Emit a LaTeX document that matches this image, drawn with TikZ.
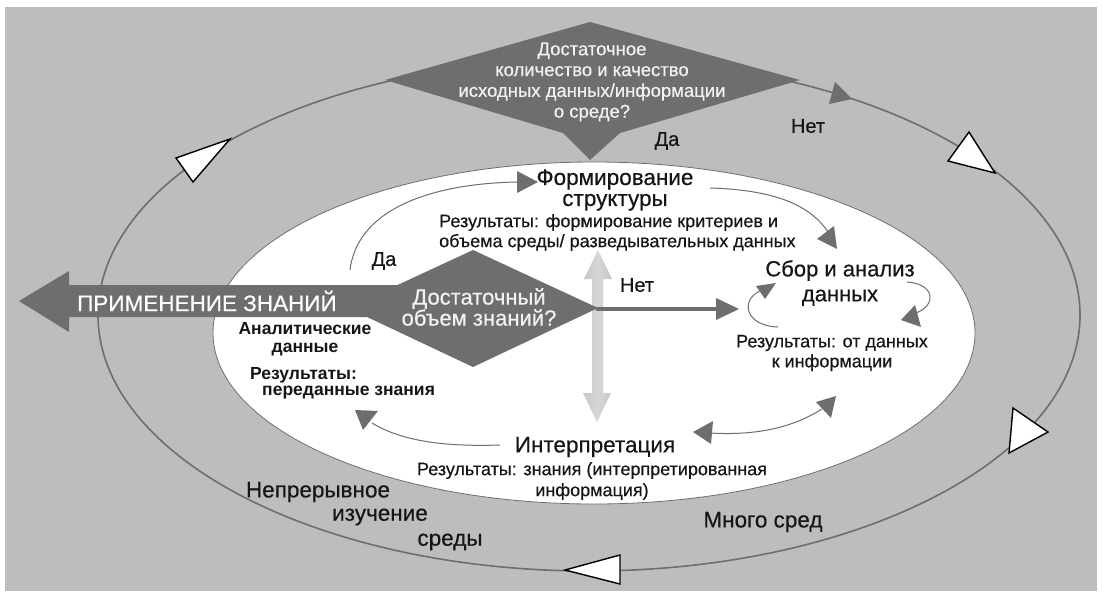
\documentclass[tikz,border=0pt]{standalone}
\usepackage{fontspec}
\setmainfont{Liberation Sans}
\newfontfamily\medfont{Liberation Sans}[FakeBold=0.45]
\definecolor{bggray}{HTML}{BDBDBD}
\definecolor{dark}{HTML}{6E6E6E}
\definecolor{lightarr}{HTML}{C6C6C6}
\definecolor{dtext}{HTML}{F2F2F2}
\definecolor{ink}{HTML}{151515}
\tikzset{
  big/.style={font=\medfont\fontsize{22.5}{21}\selectfont, text=ink, inner sep=0pt, align=center},
  yesno/.style={font=\medfont\fontsize{20}{21}\selectfont, text=ink, inner sep=0pt},
  small/.style={font=\medfont\fontsize{18}{20}\selectfont, text=ink, inner sep=0pt},
  bsmall/.style={font=\fontsize{17.5}{18.5}\selectfont\bfseries, text=ink, inner sep=0pt},
  dtxt/.style={text=dtext, inner sep=0pt, align=center},
  flow/.style={draw=dark, line width=1pt},
  headfill/.style={fill=dark, draw=none},
  wtri/.style={fill=white, draw=black, line width=1.4pt, line join=miter},
}
\begin{document}
\begin{tikzpicture}[x=1pt,y=-1pt]
\useasboundingbox (0,0) rectangle (1102,599);
\fill[white] (0,0) rectangle (1102,599);
\fill[bggray] (5,7) rectangle (1097,591);
% outer cycle
\draw[dark, line width=1.6pt] (589,315) ellipse [x radius=491pt, y radius=256pt];
% inner white field
\filldraw[fill=white, draw=dark, line width=0.8pt] (594,333) ellipse [x radius=381pt, y radius=171pt];

% vertical double arrow
\shade[left color=lightarr, right color=lightarr, middle color=lightarr!70!white]
  (598,250) -- (612,279) -- (603,279) -- (603,393) -- (611,393) -- (597,422)
  -- (583,393) -- (592,393) -- (592,279) -- (584,279) -- cycle;

% big arrow band
\fill[dark] (19,301) -- (69,271) -- (69,285) -- (430,285) -- (430,317) -- (69,317) -- (69,332) -- cycle;
% lower diamond
\fill[dark] (473,250) -- (598,308) -- (473,367) -- (348,308) -- cycle;
% horizontal arrow
\coordinate (hs) at (596,309);
\coordinate (he) at (720,309);
\draw[dark, line width=4pt] (hs) -- (he);
\fill[headfill] (716,298) -- (739,309) -- (716,320) -- cycle;
% top diamond
\fill[dark] (590,22) -- (800,80) -- (620,133) -- (590,160) -- (563,133) -- (385,80) -- cycle;

% markers on outer cycle
\fill[headfill] (852,99) -- (835,82) -- (829,104) -- cycle;
\filldraw[wtri] (176,158) -- (230,139) -- (193,182) -- cycle;
\filldraw[wtri] (969,132) -- (948,161) -- (995,173) -- cycle;
\filldraw[wtri] (1013,408) -- (1009,453) -- (1048,432) -- cycle;
\filldraw[wtri] (565,570) -- (620,555) -- (620,584) -- cycle;

% thin arrows
\coordinate (a1) at (350,270); \coordinate (a2) at (519,182);
\draw[flow] (a1) .. controls (358,205) and (440,183) .. (a2);
\fill[headfill] (538,182) -- (517,171) -- (517,193) -- cycle;

\coordinate (b1) at (710,188); \coordinate (b2) at (828,232);
\draw[flow] (b1) .. controls (775,190) and (810,205) .. (b2);
\fill[headfill] (817,239) -- (834,226) -- (837,249) -- cycle;

\coordinate (c1) at (778,327); \coordinate (c2) at (760,291);
\draw[flow] (c1) .. controls (745,326) and (740,300) .. (c2);
\fill[headfill] (776,283) -- (756,286) -- (765,299) -- cycle;

\coordinate (d1) at (907,282); \coordinate (d2) at (916,313);
\draw[flow] (d1) .. controls (935,284) and (937,305) .. (d2);
\fill[headfill] (901,320) -- (915,305) -- (921,327) -- cycle;

\coordinate (e1) at (500,445); \coordinate (e2) at (372,423);
\draw[flow] (e1) .. controls (440,447) and (400,440) .. (e2);
\fill[headfill] (355,410) -- (378,411) -- (363,430) -- cycle;

\coordinate (f1) at (710,433); \coordinate (f2) at (822,409);
\draw[flow] (f1) .. controls (760,436) and (795,426) .. (f2);
\fill[headfill] (693,432) -- (713,421) -- (711,444) -- cycle;
\fill[headfill] (836,396) -- (816,402) -- (831,418) -- cycle;

% texts
\node[dtxt, font=\medfont\fontsize{18.5}{20.8}\selectfont] (q1) at (592,82)
  {Достаточное\\количество и качество\\исходных данных/информации\\о среде?};
\node[yesno] (yes1) at (667,141) {Да};
\node[yesno] (no1) at (808,126) {Нет};
\node[big] (form) at (615,190) {Формирование\\структуры};
\node[small, anchor=west, align=left] (formres) at (439,232.5)
  {Результаты: формирование критериев и\\объема среды/ разведывательных данных};
\node[yesno] (yes2) at (384,261) {Да};
\node[yesno] (no2) at (637,285) {Нет};
\node[dtxt, font=\medfont\fontsize{22.5}{21}\selectfont, text=white, anchor=west] (apply) at (77,301) {ПРИМЕНЕНИЕ ЗНАНИЙ};
\node[dtxt, font=\medfont\fontsize{22}{21}\selectfont] (q2) at (479,307) {Достаточный\\объем знаний?};
\node[bsmall, align=center] (anal) at (305,339) {Аналитические\\данные};
\node[bsmall, anchor=west] (res1) at (250,375) {Результаты:};
\node[bsmall, anchor=west] (res2) at (262,393) {переданные знания};
\node[big, font=\medfont\fontsize{22}{25}\selectfont] (sbor) at (840,283) {Сбор и анализ\\данных};
\node[small, align=center] (sborres) at (832,353) {Результаты: от данных\\к информации};
\node[big] (interp) at (595,447) {Интерпретация};
\node[small, align=center, font=\medfont\fontsize{18}{21}\selectfont] (interpres) at (592,481)
  {Результаты: знания (интерпретированная\\информация)};
\node[big] (cont1) at (318,492) {Непрерывное};
\node[big] (cont2) at (380,517) {изучение};
\node[big] (cont3) at (450,542) {среды};
\node[big] (many) at (763,522) {Много сред};
\end{tikzpicture}
\end{document}
